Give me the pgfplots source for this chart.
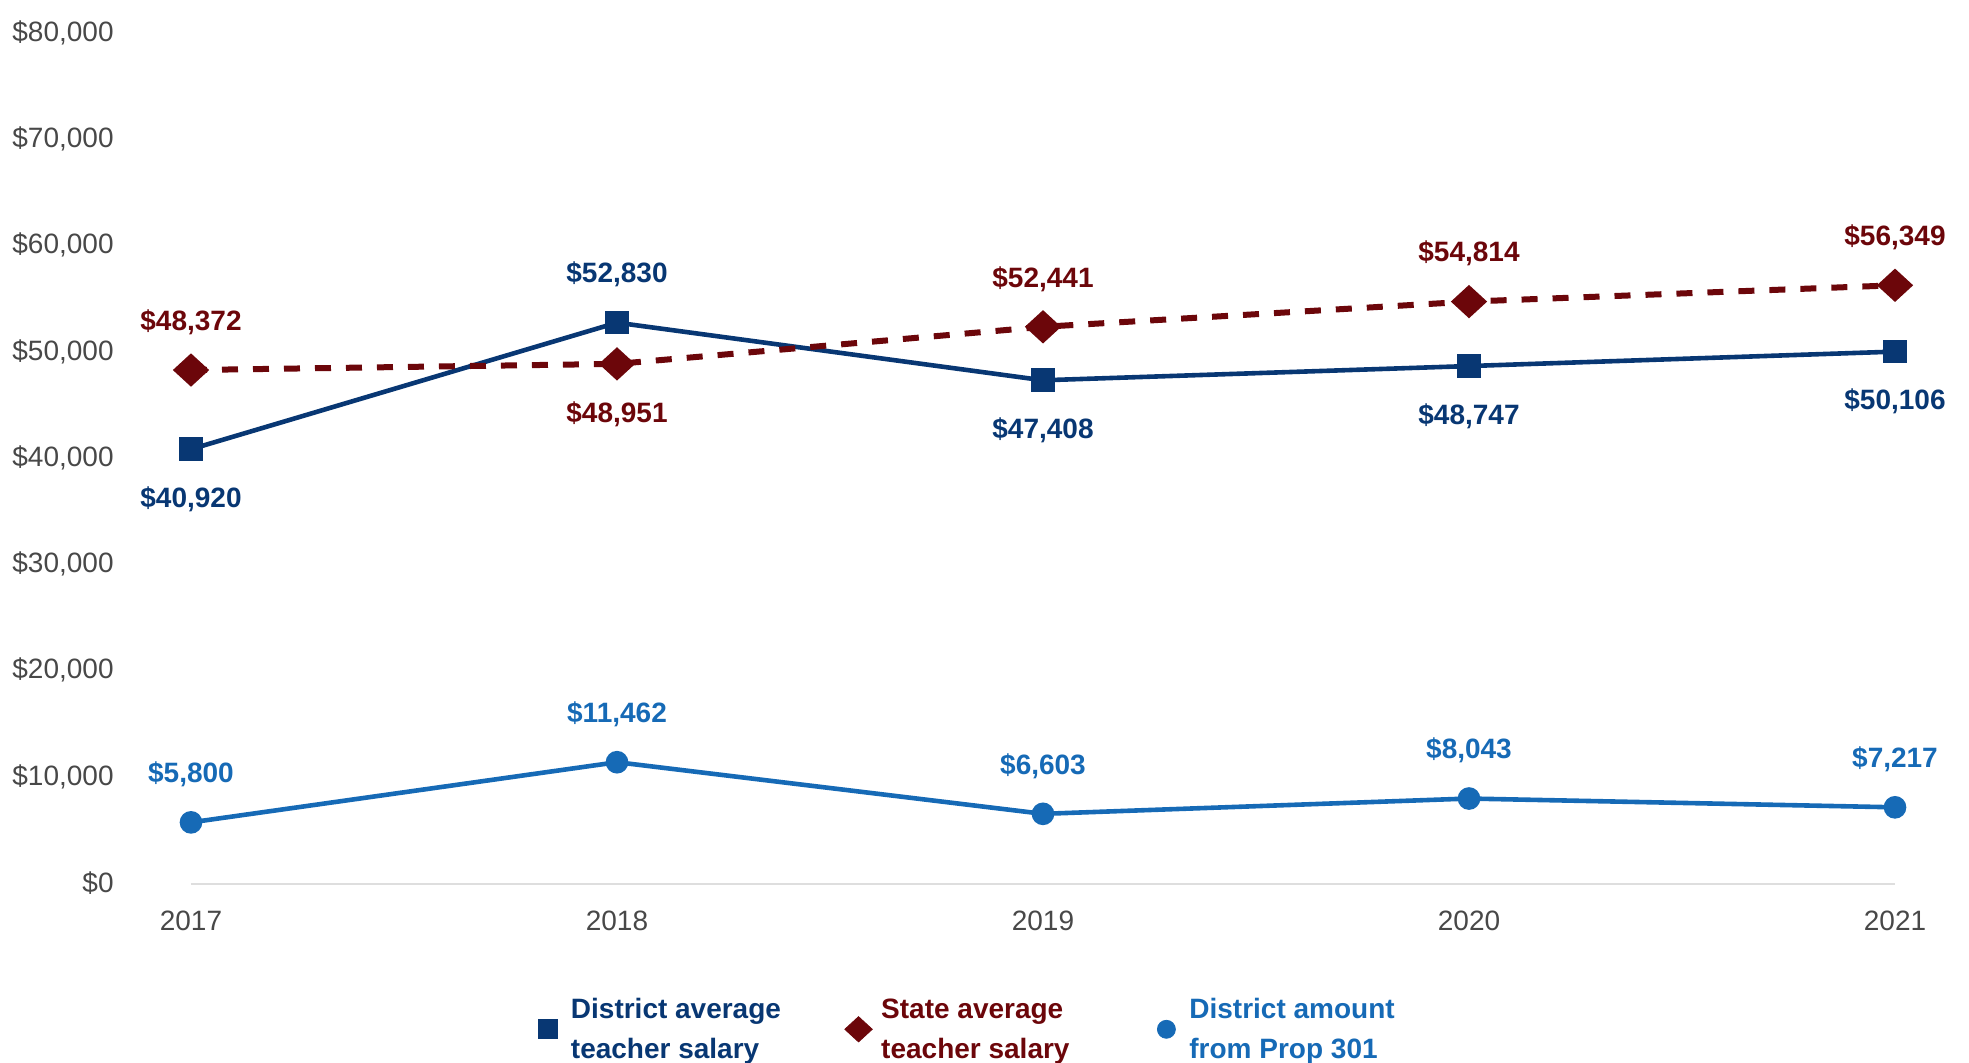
\documentclass[border=0pt]{standalone}
\usepackage{fontspec}
\setmainfont{Liberation Sans}
\usepackage{pgfplots}
\pgfplotsset{compat=1.18}
\definecolor{navyc}{RGB}{8,55,115}
\definecolor{redc}{RGB}{108,6,10}
\definecolor{bluec}{RGB}{22,106,182}
\definecolor{tickc}{RGB}{72,72,72}
\definecolor{axc}{RGB}{222,222,222}

\pgfplotsset{
  lblup/.style={draw=none, mark=none, forget plot,
    nodes near coords={\$\pgfmathprintnumber{\pgfplotspointmeta}},
    nodes near coords style={anchor=center, inner sep=0pt, yshift=24pt, font=\fontsize{14}{17}\selectfont\bfseries, text=#1}},
  lbldn/.style={draw=none, mark=none, forget plot,
    nodes near coords={\$\pgfmathprintnumber{\pgfplotspointmeta}},
    nodes near coords style={anchor=center, inner sep=0pt, yshift=-25pt, font=\fontsize{14}{17}\selectfont\bfseries, text=#1}},
}
\newcommand{\legtext}[4]{\hspace{#4}\textcolor{#1}{\begin{tabular}{@{}l@{}}#2\\#3\end{tabular}}}

\begin{document}
\begin{tikzpicture}
\useasboundingbox (-95.5pt,-90.5pt) rectangle (889pt,441pt);
\begin{axis}[
  at={(0,-1pt)}, anchor=south west,
  scale only axis, width=852pt, height=425pt,
  xmin=2017, xmax=2021, ymin=0, ymax=80000,
  clip=false,
  axis x line*=bottom, axis y line*=left,
  x axis line style={draw=axc, line width=1pt},
  y axis line style={draw=none},
  major tick length=0pt, tick style={draw=none},
  xtick={2017,2018,2019,2020,2021},
  xticklabels={2017,2018,2019,2020,2021},
  ytick={0,10000,...,80000},
  scaled y ticks=false,
  /pgf/number format/fixed,
  /pgf/number format/precision=0,
  /pgf/number format/1000 sep={,},
  /pgf/number format/assume math mode=true,
  yticklabel={\$\pgfmathprintnumber{\tick}},
  yticklabel style={anchor=east, inner sep=0pt, xshift=-38.5pt, yshift=0.6pt, font=\fontsize{14}{17}\selectfont, text=tickc},
  xticklabel style={anchor=north, inner sep=0pt, yshift=-13.5pt, font=\fontsize{14}{17}\selectfont, text=tickc},
  legend columns=3,
  legend cell align=left,
  legend style={at={(0.2036,-0.1547)}, anchor=west, draw=none, fill=none, inner sep=0pt, outer sep=0pt,
    font=\fontsize{14}{20}\selectfont\bfseries,
    /tikz/column 2/.style={column sep=29.9pt},
    /tikz/column 4/.style={column sep=41.9pt}},
]
% District average teacher salary
\addplot[navyc, line width=2.3pt, mark=square*, mark size=4.75pt, forget plot] coordinates {
  (2017,40920) (2018,52830) (2019,47408) (2020,48747) (2021,50106)};
% State average teacher salary
\addplot[redc, line width=3pt, dash pattern=on 8pt off 7.5pt, mark=diamond*, mark size=6.3pt, mark options={solid, xscale=1.45}, forget plot] coordinates {
  (2017,48372) (2018,48951) (2019,52441) (2020,54814) (2021,56349)};
% District amount from Prop 301
\addplot[bluec, line width=2.3pt, mark=*, mark size=4.5pt, forget plot] coordinates {
  (2017,5800) (2018,11462) (2019,6603) (2020,8043) (2021,7217)};
% value labels
\addplot[lblup=navyc] coordinates {(2018,52830)};
\addplot[lbldn=navyc] coordinates {(2017,40920) (2019,47408) (2020,48747) (2021,50106)};
\addplot[lblup=redc] coordinates {(2017,48372) (2019,52441) (2020,54814) (2021,56349)};
\addplot[lbldn=redc] coordinates {(2018,48951)};
\addplot[lblup=bluec] coordinates {(2017,5800) (2018,11462) (2019,6603) (2020,8043) (2021,7217)};
% legend
\addlegendimage{only marks, mark=square*, navyc, mark size=4.75pt, mark options={yshift=-6.9pt}}
\addlegendentry{\legtext{navyc}{District average}{teacher salary}{5pt}}
\addlegendimage{only marks, mark=diamond*, redc, mark size=6.3pt, mark options={xscale=1.45, yshift=-6.9pt}}
\addlegendentry{\legtext{redc}{State average}{teacher salary}{2.5pt}}
\addlegendimage{only marks, mark=*, bluec, mark size=4.5pt, mark options={yshift=-6.9pt}}
\addlegendentry{\legtext{bluec}{District amount}{from Prop 301}{5pt}}
\end{axis}
\end{tikzpicture}
\end{document}
